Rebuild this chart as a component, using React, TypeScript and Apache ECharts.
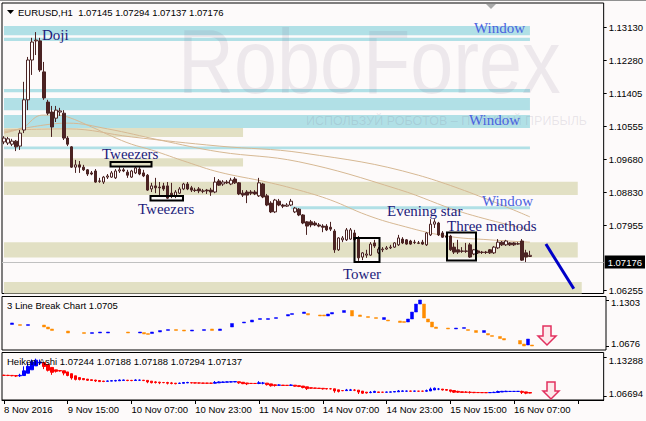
import { useEffect, useRef } from 'react';
import * as echarts from 'echarts';

// ---------- data ----------
const sessions = [
  { day: '8 Nov', from: 23, to: 23 },
  { day: '9 Nov', from: 0, to: 23 },
  { day: '10 Nov', from: 0, to: 23 },
  { day: '11 Nov', from: 0, to: 23 },
  { day: '14 Nov', from: 0, to: 23 },
  { day: '15 Nov', from: 0, to: 23 },
  { day: '16 Nov', from: 0, to: 23 },
  { day: '17 Nov', from: 0, to: 5 },
];
const firstLabel = '8 Nov 2016';
const lastBarIndex = 132;

// EURUSD H1 candles: [open, close, low, high]
const candles: number[][] = [
  [1.1014, 1.1024, 1.1008, 1.1029], [1.1011, 1.1022, 1.1006, 1.1027], [1.1008, 1.1016, 1.1003, 1.1022],
  [1.1016, 1.1001, 1.0990, 1.1019], [1.1003, 1.1037, 1.0993, 1.1045], [1.1045, 1.1124, 1.1037, 1.1171],
  [1.1124, 1.1228, 1.1097, 1.1236], [1.1228, 1.1275, 1.1189, 1.1286], [1.1278, 1.1280, 1.1241, 1.1301],
  [1.1278, 1.1202, 1.1197, 1.1286], [1.1197, 1.1129, 1.1124, 1.1223], [1.1118, 1.1089, 1.1084, 1.1124],
  [1.1092, 1.1053, 1.1027, 1.1108], [1.1076, 1.1097, 1.1066, 1.1108], [1.1092, 1.1095, 1.1082, 1.1103],
  [1.1089, 1.1024, 1.1019, 1.1097], [1.1024, 1.1008, 1.1003, 1.1029], [1.1001, 1.0948, 1.0946, 1.1003],
  [1.0948, 1.0954, 1.0933, 1.0967], [1.0954, 1.0948, 1.0933, 1.0964], [1.0948, 1.0941, 1.0938, 1.0954],
  [1.0941, 1.0930, 1.0925, 1.0943], [1.0933, 1.0930, 1.0927, 1.0938], [1.0938, 1.0909, 1.0907, 1.0943],
  [1.0912, 1.0911, 1.0907, 1.0920], [1.0909, 1.0922, 1.0904, 1.0925], [1.0922, 1.0925, 1.0917, 1.0930],
  [1.0922, 1.0933, 1.0920, 1.0938], [1.0920, 1.0938, 1.0917, 1.0943], [1.0938, 1.0941, 1.0933, 1.0948],
  [1.0941, 1.0938, 1.0935, 1.0946], [1.0935, 1.0927, 1.0920, 1.0941], [1.0922, 1.0938, 1.0920, 1.0941],
  [1.0933, 1.0946, 1.0930, 1.0951], [1.0943, 1.0930, 1.0927, 1.0948], [1.0933, 1.0925, 1.0922, 1.0941],
  [1.0927, 1.0888, 1.0886, 1.0930], [1.0891, 1.0899, 1.0883, 1.0907], [1.0899, 1.0894, 1.0880, 1.0920],
  [1.0896, 1.0894, 1.0870, 1.0909], [1.0899, 1.0891, 1.0886, 1.0907], [1.0899, 1.0867, 1.0865, 1.0909],
  [1.0880, 1.0875, 1.0867, 1.0907], [1.0873, 1.0883, 1.0867, 1.0888], [1.0880, 1.0891, 1.0878, 1.0896],
  [1.0891, 1.0904, 1.0888, 1.0907], [1.0904, 1.0891, 1.0888, 1.0909], [1.0894, 1.0888, 1.0883, 1.0899],
  [1.0888, 1.0887, 1.0883, 1.0894], [1.0891, 1.0886, 1.0880, 1.0896], [1.0886, 1.0885, 1.0880, 1.0891],
  [1.0888, 1.0886, 1.0878, 1.0891], [1.0888, 1.0883, 1.0873, 1.0894], [1.0883, 1.0909, 1.0880, 1.0922],
  [1.0912, 1.0901, 1.0899, 1.0917], [1.0904, 1.0909, 1.0899, 1.0914], [1.0909, 1.0907, 1.0904, 1.0914],
  [1.0904, 1.0914, 1.0901, 1.0920], [1.0917, 1.0907, 1.0904, 1.0922], [1.0907, 1.0878, 1.0875, 1.0909],
  [1.0880, 1.0875, 1.0870, 1.0888], [1.0883, 1.0875, 1.0854, 1.0888], [1.0883, 1.0880, 1.0875, 1.0888],
  [1.0883, 1.0878, 1.0875, 1.0888], [1.0873, 1.0907, 1.0870, 1.0920], [1.0904, 1.0870, 1.0867, 1.0907],
  [1.0873, 1.0849, 1.0846, 1.0878], [1.0854, 1.0831, 1.0828, 1.0859], [1.0831, 1.0862, 1.0828, 1.0865],
  [1.0859, 1.0849, 1.0846, 1.0865], [1.0849, 1.0846, 1.0841, 1.0852], [1.0846, 1.0849, 1.0844, 1.0854],
  [1.0849, 1.0859, 1.0846, 1.0865], [1.0831, 1.0841, 1.0828, 1.0844], [1.0838, 1.0823, 1.0820, 1.0841],
  [1.0823, 1.0802, 1.0799, 1.0825], [1.0805, 1.0794, 1.0771, 1.0807], [1.0805, 1.0797, 1.0791, 1.0810],
  [1.0802, 1.0797, 1.0794, 1.0807], [1.0797, 1.0794, 1.0791, 1.0802], [1.0794, 1.0791, 1.0778, 1.0799],
  [1.0794, 1.0784, 1.0781, 1.0799], [1.0791, 1.0786, 1.0781, 1.0805], [1.0781, 1.0732, 1.0724, 1.0786],
  [1.0732, 1.0763, 1.0729, 1.0765], [1.0758, 1.0763, 1.0752, 1.0768], [1.0758, 1.0784, 1.0755, 1.0789],
  [1.0760, 1.0784, 1.0758, 1.0789], [1.0776, 1.0758, 1.0752, 1.0784], [1.0763, 1.0711, 1.0703, 1.0768],
  [1.0713, 1.0724, 1.0705, 1.0726], [1.0718, 1.0721, 1.0711, 1.0732], [1.0718, 1.0747, 1.0716, 1.0752],
  [1.0750, 1.0742, 1.0737, 1.0758], [1.0724, 1.0734, 1.0721, 1.0739], [1.0732, 1.0734, 1.0726, 1.0739],
  [1.0734, 1.0737, 1.0732, 1.0742], [1.0737, 1.0739, 1.0734, 1.0745], [1.0739, 1.0750, 1.0737, 1.0752],
  [1.0745, 1.0763, 1.0742, 1.0771], [1.0760, 1.0750, 1.0747, 1.0765], [1.0758, 1.0747, 1.0745, 1.0760],
  [1.0755, 1.0747, 1.0745, 1.0758], [1.0752, 1.0751, 1.0747, 1.0758], [1.0750, 1.0749, 1.0747, 1.0755],
  [1.0752, 1.0747, 1.0745, 1.0758], [1.0745, 1.0776, 1.0742, 1.0778], [1.0771, 1.0799, 1.0768, 1.0812],
  [1.0799, 1.0805, 1.0789, 1.0812], [1.0802, 1.0771, 1.0768, 1.0805], [1.0776, 1.0765, 1.0763, 1.0781],
  [1.0768, 1.0765, 1.0763, 1.0771], [1.0768, 1.0732, 1.0729, 1.0771], [1.0739, 1.0726, 1.0721, 1.0750],
  [1.0732, 1.0726, 1.0721, 1.0758], [1.0729, 1.0728, 1.0724, 1.0739], [1.0729, 1.0728, 1.0724, 1.0750],
  [1.0745, 1.0713, 1.0711, 1.0750], [1.0721, 1.0732, 1.0718, 1.0734], [1.0729, 1.0724, 1.0721, 1.0732],
  [1.0726, 1.0725, 1.0721, 1.0729], [1.0726, 1.0725, 1.0721, 1.0729], [1.0732, 1.0724, 1.0721, 1.0734],
  [1.0724, 1.0739, 1.0721, 1.0742], [1.0737, 1.0752, 1.0734, 1.0760], [1.0752, 1.0745, 1.0742, 1.0755],
  [1.0745, 1.0755, 1.0742, 1.0758], [1.0750, 1.0745, 1.0742, 1.0752], [1.0750, 1.0745, 1.0742, 1.0752],
  [1.0748, 1.0747, 1.0745, 1.0752], [1.0755, 1.0705, 1.0703, 1.0760], [1.0724, 1.0713, 1.0700, 1.0732],
  [1.07145, 1.07176, 1.07137, 1.07294],
];
const currentPrice = 1.07176;

// moving averages: [bar index, value]
const maFast: number[][] = [
  [0, 1.1037], [5, 1.1053], [8, 1.1079], [10, 1.1084], [13, 1.1084], [16, 1.1079], [22, 1.1053],
  [27, 1.1029], [32, 1.1008], [37, 1.0993], [46, 1.0961], [54, 1.0935], [66, 1.0909], [74, 1.0888],
  [82, 1.0862], [91, 1.0823], [99, 1.0797], [111, 1.0768], [122, 1.0758], [132, 1.0752],
];
const maMid: number[][] = [
  [0, 1.1040], [10, 1.1058], [16, 1.1063], [26, 1.1048], [39, 1.1019], [54, 1.0988], [74, 1.0962],
  [99, 1.0890], [115, 1.0830], [132, 1.0784],
];
const maSlow: number[][] = [
  [0, 1.1045], [16, 1.1048], [32, 1.1027], [54, 1.1003], [75, 1.0985], [104, 1.0927], [132, 1.0818],
];

// forecast line [bar index, price]
const forecast: number[][] = [[136, 1.0747], [143, 1.0630]];

// zones: [fromIndex, toIndex, top, bottom]
const windowZones: number[][] = [
  [0, 132, 1.1317, 1.1293], [0, 132, 1.1286, 1.1278], [0, 132, 1.1152, 1.1144],
  [0, 132, 1.1129, 1.1097], [0, 132, 1.1084, 1.1050], [0, 132, 1.1002, 1.0995],
  [72, 132, 1.0846, 1.0838],
];
const levelZones: number[][] = [
  [0, 60, 1.1050, 1.1027], [0, 60, 1.0971, 1.0950], [0, 144, 1.0910, 1.0875],
  [0, 144, 1.0752, 1.0712], [0, 145, 1.0648, 1.0618],
];

// 3 Line Break boxes
const lbIndex = [2, 4, 6, 10, 11, 12, 16, 20, 22, 24, 26, 31, 34, 35, 36, 37, 39, 41, 43, 45, 47, 50, 52, 54, 57, 60, 62, 64, 66, 68, 71, 72, 75, 76, 79, 80, 81, 82, 85, 87, 89, 91, 93, 95, 96, 99, 100, 101, 102, 103, 104, 105, 106, 107, 108, 111, 113, 115, 116, 118, 120, 121, 122, 124, 125, 129, 130, 131, 132];
const lbTop = [1.0990, 1.0969, 1.0969, 1.0962, 1.0935, 1.0908, 1.0880, 1.0860, 1.0860, 1.0867, 1.0867, 1.0867, 1.0867, 1.0860, 1.0846, 1.0867, 1.0887, 1.0901, 1.0901, 1.0894, 1.0894, 1.0901, 1.0908, 1.0908, 1.0983, 1.1003, 1.1030, 1.1051, 1.1051, 1.1064, 1.1105, 1.1119, 1.1139, 1.1119, 1.1099, 1.1099, 1.1112, 1.1133, 1.1160, 1.1160, 1.1099, 1.1078, 1.1064, 1.1064, 1.1030, 1.1017, 1.1010, 1.1044, 1.1139, 1.1248, 1.1303, 1.1248, 1.1044, 1.1003, 1.0935, 1.0921, 1.0921, 1.0928, 1.0901, 1.0887, 1.0887, 1.0846, 1.0819, 1.0806, 1.0778, 1.0751, 1.0703, 1.0771, 1.0690];
const lbBottom = [1.0969, 1.0955, 1.0955, 1.0935, 1.0908, 1.0887, 1.0853, 1.0846, 1.0846, 1.0853, 1.0853, 1.0853, 1.0853, 1.0840, 1.0833, 1.0846, 1.0867, 1.0887, 1.0887, 1.0880, 1.0880, 1.0887, 1.0887, 1.0887, 1.0935, 1.0990, 1.1003, 1.1037, 1.1037, 1.1051, 1.1085, 1.1105, 1.1119, 1.1099, 1.1085, 1.1085, 1.1085, 1.1112, 1.1133, 1.1085, 1.1078, 1.1064, 1.1051, 1.1037, 1.1017, 1.0996, 1.0996, 1.1003, 1.1044, 1.1139, 1.1248, 1.1058, 1.1003, 1.0935, 1.0915, 1.0908, 1.0908, 1.0915, 1.0887, 1.0860, 1.0860, 1.0826, 1.0806, 1.0778, 1.0758, 1.0703, 1.0676, 1.0690, 1.0676];
const lbUp = [1, 0, 1, 0, 0, 0, 0, 0, 1, 1, 1, 0, 1, 0, 0, 1, 1, 1, 0, 0, 1, 1, 0, 1, 1, 1, 1, 1, 1, 1, 1, 1, 1, 0, 0, 0, 1, 1, 1, 0, 0, 0, 0, 1, 0, 0, 0, 1, 1, 1, 1, 0, 0, 0, 0, 0, 1, 1, 0, 0, 1, 0, 0, 0, 0, 0, 0, 1, 0];

// axis tick labels
const mainTicks = [1.06255, 1.07955, 1.0883, 1.0968, 1.10555, 1.11405, 1.1228, 1.1313];
const lbTicks = [1.0676, 1.1303];
const haTicks = [1.06694, 1.13288];

const titleMain = 'EURUSD,H1  1.07145 1.07294 1.07137 1.07176';
const titleLB = '3 Line Break Chart 1.0705';
const titleHA = 'Heiken Ashi 1.07244 1.07188 1.07188 1.07294 1.07137';

// ---------- derived ----------
const pad = (n: number) => (n < 10 ? '0' + n : '' + n);
const categories: string[] = [];
sessions.forEach((s) => {
  for (let h = s.from; h <= s.to; h++) categories.push(`${s.day} ${pad(h)}:00`);
});

const lbData: any[] = categories.map(() => '-');
lbIndex.forEach((idx, k) => {
  const t = lbTop[k];
  const b = lbBottom[k];
  lbData[idx] = lbUp[k] ? [b, t, b, t] : [t, b, b, t];
});

const haData: number[][] = [];
{
  let po = 0;
  let pc = 0;
  candles.forEach(([o, c, l, h], i) => {
    const hc = (o + c + l + h) / 4;
    const ho = i === 0 ? (o + c) / 2 : (po + pc) / 2;
    haData.push([ho, hc, Math.min(l, ho, hc), Math.max(h, ho, hc)]);
    po = ho;
    pc = hc;
  });
}

const BG = '#fdfafa';
const CANDLE = '#4b2323';
const FONT = 'Liberation Sans';
const SERIF = 'Liberation Serif';
const NAVY = '#1c1a7a';
const WINDOW_BLUE = '#4a62df';

const zoneItems = [
  ...windowZones.map(([a, b, t, btm]) => [
    { xAxis: a, yAxis: t, itemStyle: { color: '#b1e0e6' } },
    { xAxis: b, yAxis: btm },
  ]),
  ...levelZones.map(([a, b, t, btm]) => [
    { xAxis: a, yAxis: t, itemStyle: { color: '#e2e0c4' } },
    { xAxis: b, yAxis: btm },
  ]),
];

const yAxisOf = (gridIndex: number, min: number, max: number, ticks: number[], digits: number, clampLabels: boolean) => ({
  type: 'value',
  gridIndex,
  position: 'right',
  min,
  max,
  splitLine: { show: false },
  axisLine: { show: false },
  axisTick: { show: true, customValues: ticks, length: 3, lineStyle: { color: '#000' } },
  axisLabel: {
    customValues: ticks,
    formatter: (v: number) => {
      const s = v.toFixed(digits);
      if (!clampLabels) return s;
      return v === ticks[ticks.length - 1] ? `{top|${s}}` : `{bot|${s}}`;
    },
    rich: {
      top: { padding: [6, 0, 0, 0], fontSize: 9.5, fontFamily: FONT, color: '#000' },
      bot: { padding: [0, 0, 6, 0], fontSize: 9.5, fontFamily: FONT, color: '#000' },
    },
    color: '#000',
    fontSize: 9.5,
    fontFamily: FONT,
    margin: 5,
  },
});

const hiddenX = (gridIndex: number) => ({
  type: 'category',
  gridIndex,
  data: categories,
  boundaryGap: true,
  axisLine: { show: false },
  axisTick: { show: false },
  axisLabel: { show: false },
  splitLine: { show: false },
});

const text = (t: string, x: number, y: number, color: string, size = 15, family = SERIF) => ({
  type: 'text',
  x,
  y,
  z: 20,
  silent: true,
  style: {
    text: t,
    fill: color,
    fontSize: size,
    fontFamily: family,
    align: 'left',
    verticalAlign: 'middle',
    textAlign: 'left',
    textVerticalAlign: 'middle',
  },
});
const box = (x: number, y: number, w: number, h: number) => ({
  type: 'rect',
  z: 20,
  silent: true,
  shape: { x, y, width: w, height: h },
  style: { fill: 'none', stroke: '#000', lineWidth: 2 },
});

const option: any = {
  animation: false,
  backgroundColor: BG,
  grid: [
    { left: 2, top: 3, width: 604, height: 290.5, show: true, borderColor: '#000', borderWidth: 1, backgroundColor: 'transparent' },
    { left: 2, top: 296.5, width: 604, height: 53.5, show: true, borderColor: '#000', borderWidth: 1, backgroundColor: 'transparent' },
    { left: 2, top: 352.5, width: 604, height: 47.5, show: true, borderColor: '#000', borderWidth: 1, backgroundColor: 'transparent' },
  ],
  xAxis: [
    hiddenX(0),
    hiddenX(1),
    {
      type: 'category',
      gridIndex: 2,
      data: categories,
      boundaryGap: true,
      axisLine: { show: true, lineStyle: { color: '#000' } },
      axisTick: { show: true, interval: 15, alignWithLabel: true, length: 4, lineStyle: { color: '#000' } },
      axisLabel: {
        interval: 15,
        align: 'left',
        margin: 4,
        color: '#000',
        fontSize: 9.5,
        fontFamily: FONT,
        formatter: (v: string, i: number) => (i === 0 ? firstLabel : i > lastBarIndex ? '' : v),
      },
      splitLine: { show: false },
    },
  ],
  yAxis: [
    yAxisOf(0, 1.06178, 1.1377, mainTicks, 5, false),
    yAxisOf(1, 1.06215, 1.13507, lbTicks, 4, true),
    yAxisOf(2, 1.06018, 1.14049, haTicks, 5, true),
  ],
  series: [
    {
      type: 'line',
      xAxisIndex: 0,
      yAxisIndex: 0,
      data: [],
      z: 1,
      silent: true,
      markArea: { silent: true, z: 1, data: zoneItems },
    },
    ...[maSlow, maMid, maFast].map((d) => ({
      type: 'line',
      xAxisIndex: 0,
      yAxisIndex: 0,
      data: d,
      smooth: 0.4,
      symbol: 'none',
      silent: true,
      z: 3,
      lineStyle: { color: '#d6b893', width: 1 },
    })),
    {
      type: 'candlestick',
      xAxisIndex: 0,
      yAxisIndex: 0,
      data: candles,
      barWidth: 3,
      z: 4,
      silent: true,
      itemStyle: { color: BG, color0: CANDLE, borderColor: CANDLE, borderColor0: CANDLE, borderWidth: 1 },
      markLine: {
        silent: true,
        symbol: ['none', 'none'],
        z: 3,
        data: [{ yAxis: currentPrice }],
        lineStyle: { color: '#c0c0c0', width: 1, type: 'solid' },
        label: {
          show: true,
          position: 'end',
          distance: 1,
          formatter: currentPrice.toFixed(5),
          backgroundColor: '#000',
          color: '#fff',
          fontSize: 9.5,
          fontFamily: FONT,
          padding: [2, 3, 1, 3],
        },
      },
    },
    {
      type: 'line',
      xAxisIndex: 0,
      yAxisIndex: 0,
      data: forecast,
      symbol: 'none',
      silent: true,
      z: 6,
      lineStyle: { color: '#0000c8', width: 3 },
    },
    {
      type: 'candlestick',
      xAxisIndex: 1,
      yAxisIndex: 1,
      data: lbData,
      barWidth: 4,
      silent: true,
      itemStyle: { color: '#0000ff', color0: '#ff8c00', borderColor: '#0000ff', borderColor0: '#ff8c00', borderWidth: 0.5 },
    },
    {
      type: 'candlestick',
      xAxisIndex: 2,
      yAxisIndex: 2,
      data: haData,
      barWidth: 3,
      silent: true,
      itemStyle: { color: '#0000ff', color0: '#ff0000', borderColor: '#0000ff', borderColor0: '#ff0000', borderWidth: 1 },
    },
  ],
  graphic: {
    elements: [
      // watermark
      {
        type: 'text',
        x: 178,
        y: 62,
        z: 2,
        silent: true,
        scaleX: 0.86,
        style: {
          text: 'RoboForex',
          fill: 'rgba(120,110,140,0.12)',
          fontSize: 90,
          fontFamily: FONT,
          verticalAlign: 'middle',
          textVerticalAlign: 'middle',
        },
      },
      {
        type: 'text',
        x: 306,
        y: 121,
        z: 2,
        silent: true,
        style: {
          text: 'ИСПОЛЬЗУЙ РОБОТОВ – ПОЛУЧАЙ ПРИБЫЛЬ',
          fill: 'rgba(120,110,140,0.16)',
          fontSize: 12.5,
          fontFamily: FONT,
          verticalAlign: 'middle',
          textVerticalAlign: 'middle',
        },
      },
      // frame line above chart
      { type: 'line', z: 20, silent: true, shape: { x1: 0, y1: 0.5, x2: 646, y2: 0.5 }, style: { stroke: '#909090', lineWidth: 1 } },
      // chart shift marker
      { type: 'polygon', z: 20, silent: true, shape: { points: [[486, 4], [496, 4], [491, 9]] }, style: { fill: '#a9a9a9' } },
      // titles
      { type: 'polygon', z: 20, silent: true, shape: { points: [[7, 10], [14, 10], [10.5, 14]] }, style: { fill: '#000' } },
      text(titleMain, 18, 12, '#000', 9.5, FONT),
      text(titleLB, 7, 305.5, '#000', 9.5, FONT),
      text(titleHA, 7, 361.5, '#000', 9.5, FONT),
      // pattern labels
      text('Doji', 42, 34.5, NAVY),
      text('Tweezers', 102, 153.5, NAVY),
      text('Tweezers', 138, 208.5, NAVY),
      text('Tower', 343, 274, NAVY),
      text('Evening star', 387, 211, NAVY),
      text('Three methods', 447, 225.5, NAVY),
      text('Window', 474, 28, WINDOW_BLUE),
      text('Window', 469, 120, WINDOW_BLUE),
      text('Window', 482, 201, WINDOW_BLUE),
      // pattern boxes
      box(110.5, 162, 41, 4.5),
      box(150.5, 196, 32.5, 4.5),
      box(354.5, 238, 25, 24),
      box(447, 232.5, 29, 28),
      // signal arrows
      {
        type: 'polygon',
        z: 20,
        silent: true,
        shape: { points: [[543, 326], [551, 326], [551, 336], [556, 336], [547, 345], [538, 336], [543, 336]] },
        style: { fill: 'rgba(255,182,193,0.25)', stroke: '#e2305f', lineWidth: 1.5 },
      },
      {
        type: 'polygon',
        z: 20,
        silent: true,
        shape: { points: [[547, 382], [555, 382], [555, 391], [559, 391], [551, 399], [543, 391], [547, 391]] },
        style: { fill: 'rgba(255,182,193,0.25)', stroke: '#e2305f', lineWidth: 1.5 },
      },
    ],
  },
};

export default function App() {
  const ref = useRef<HTMLDivElement>(null);
  useEffect(() => {
    const chart = echarts.init(ref.current!, null, { renderer: 'svg' });
    chart.setOption(option);
    return () => chart.dispose();
  }, []);
  return <div ref={ref} style={{ position: 'fixed', left: 0, top: 0, width: 646, height: 421 }} />;
}
